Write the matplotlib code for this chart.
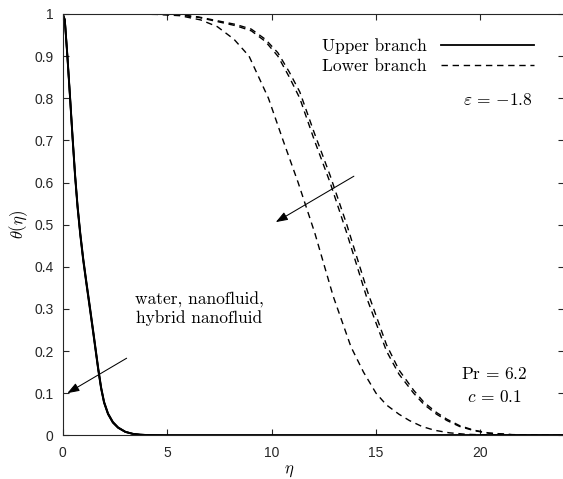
import matplotlib
matplotlib.use("Agg")
import matplotlib.pyplot as plt

plt.rcParams['font.family'] = ['Liberation Sans', 'DejaVu Sans']
plt.rcParams['mathtext.fontset'] = 'cm'

# upper branch: water, nanofluid, hybrid nanofluid (practically on top of each other)
eta_up = [0, 0.1, 0.22, 0.35, 0.47, 0.59, 0.71, 0.84, 0.98, 1.13, 1.3, 1.48, 1.7, 1.84,
          1.98, 2.17, 2.4, 2.65, 3.0, 3.35, 3.7, 4.2, 5, 24]
theta_up_water = [1, 0.985, 0.9, 0.8, 0.705, 0.615, 0.54, 0.475, 0.415, 0.36, 0.3, 0.235, 0.155, 0.11,
                  0.077, 0.05, 0.03, 0.018, 0.008, 0.0035, 0.0015, 0.0004, 0, 0]
theta_up_nano = [1, 0.986, 0.902, 0.803, 0.708, 0.618, 0.543, 0.478, 0.418, 0.363, 0.303, 0.238, 0.157, 0.112,
                 0.078, 0.051, 0.031, 0.018, 0.008, 0.0035, 0.0015, 0.0004, 0, 0]
theta_up_hybrid = [1, 0.987, 0.905, 0.806, 0.711, 0.621, 0.546, 0.481, 0.421, 0.366, 0.306, 0.241, 0.16, 0.114,
                   0.08, 0.052, 0.032, 0.019, 0.0085, 0.0037, 0.0015, 0.0004, 0, 0]

# lower branch
eta_lo_a = [0, 3, 4.5, 5.6, 6.6, 7.4, 8.2, 8.92, 9.85, 10.55, 11.27, 12.07, 12.95, 13.8, 14.4,
            15.0, 15.5, 16.1, 16.6, 17.2, 17.8, 18.5, 19.3, 20.3, 21.5, 24]
theta_lo_a = [1, 1, 0.999, 0.996, 0.986, 0.97, 0.94, 0.9, 0.8, 0.7, 0.6, 0.48, 0.33, 0.21, 0.15,
              0.1, 0.072, 0.05, 0.035, 0.021, 0.012, 0.006, 0.0025, 0.0008, 0.0002, 0]

eta_lo_b = [0, 4, 5.5, 6.5, 7.4, 8.3, 9.03, 9.7, 10.3, 10.85, 11.35, 12.05, 12.8, 13.6, 14.6,
            15.5, 16.1, 16.8, 17.3, 17.9, 18.4, 19.0, 19.7, 20.4, 21.5, 23, 24]
theta_lo_b = [1, 1, 0.998, 0.992, 0.982, 0.972, 0.96, 0.935, 0.9, 0.85, 0.8, 0.7, 0.6, 0.48, 0.32,
              0.2, 0.145, 0.1, 0.073, 0.05, 0.035, 0.021, 0.011, 0.005, 0.0015, 0.0002, 0]
theta_lo_c = [1, 1, 0.999, 0.993, 0.984, 0.975, 0.964, 0.94, 0.908, 0.862, 0.815, 0.717, 0.617, 0.5, 0.34,
              0.215, 0.155, 0.107, 0.078, 0.054, 0.038, 0.023, 0.012, 0.0055, 0.0017, 0.0002, 0]

xticks = [0, 5, 10, 15, 20]
yticks = [0, 0.1, 0.2, 0.3, 0.4, 0.5, 0.6, 0.7, 0.8, 0.9, 1]
ytick_labels = ['0', '0.1', '0.2', '0.3', '0.4', '0.5', '0.6', '0.7', '0.8', '0.9', '1']

fig = plt.figure(figsize=(5.63, 4.79), dpi=100)
ax = fig.add_axes([0.1114, 0.0912, 0.8904, 0.8796])

dash = (4.6, 3.4)
l_up, = ax.plot(eta_up, theta_up_water, color='k', lw=1.3, label='Upper branch')
ax.plot(eta_up, theta_up_nano, color='k', lw=1.3)
ax.plot(eta_up, theta_up_hybrid, color='k', lw=1.3)
l_lo, = ax.plot(eta_lo_a, theta_lo_a, color='k', lw=1.0, ls='--', dashes=dash,
                label='Lower branch')
ax.plot(eta_lo_b, theta_lo_b, color='k', lw=1.0, ls='--', dashes=dash)
ax.plot(eta_lo_b, theta_lo_c, color='k', lw=1.0, ls='--', dashes=dash)

ax.set_xlim(0, 24)
ax.set_ylim(0, 1)
ax.set_xticks(xticks)
ax.set_xticklabels([str(t) for t in xticks])
ax.set_yticks(yticks)
ax.set_yticklabels(ytick_labels)
ax.tick_params(direction='in', length=4, width=0.8, top=True, right=True,
               labelsize=10, labelcolor='#262626', color='#262626')
ax.tick_params(axis='x', pad=8)
ax.tick_params(axis='y', pad=6.5)
for s in ax.spines.values():
    s.set_linewidth(0.8)
    s.set_color('#262626')

ax.set_xlabel(r'$\eta$', fontsize=12, va='center')
ax.xaxis.set_label_coords(0.451, -0.0864)
ax.set_ylabel(r'$\theta(\eta)$', fontsize=12, va='center')
ax.yaxis.set_label_coords(-0.087, 0.50)

serif = {'family': 'cmr10', 'size': 12.5}
leg = ax.legend(handles=[l_up, l_lo], loc='upper left', bbox_to_anchor=(0.5167, 0.942),
                frameon=False, markerfirst=False, prop=serif, handlelength=5.35,
                handletextpad=0.85, borderpad=0, borderaxespad=0, labelspacing=0.25)

ax.text(22.5, 0.796, r'$\varepsilon\,=\,{-}1.8$', fontsize=12.5, ha='right', va='center')
ax.text(20.66, 0.146, r'$\mathrm{Pr}\,=\,6.2$', fontsize=12.5, ha='center', va='center')
ax.text(20.69, 0.092, r'$c\,=\,0.1$', fontsize=12.5, ha='center', va='center')
ax.text(6.55, 0.30, 'water, nanofluid,\nhybrid nanofluid', fontdict=serif,
        ha='center', va='center', linespacing=1.15)

arrow = dict(arrowstyle='-|>,head_length=0.72,head_width=0.26', color='k', lw=0.75,
             shrinkA=0, shrinkB=0)
ax.annotate('', xy=(10.2, 0.506), xytext=(13.94, 0.615), arrowprops=arrow)
ax.annotate('', xy=(0.22, 0.10), xytext=(3.06, 0.183), arrowprops=arrow)

fig.savefig('out.png', dpi=100)
